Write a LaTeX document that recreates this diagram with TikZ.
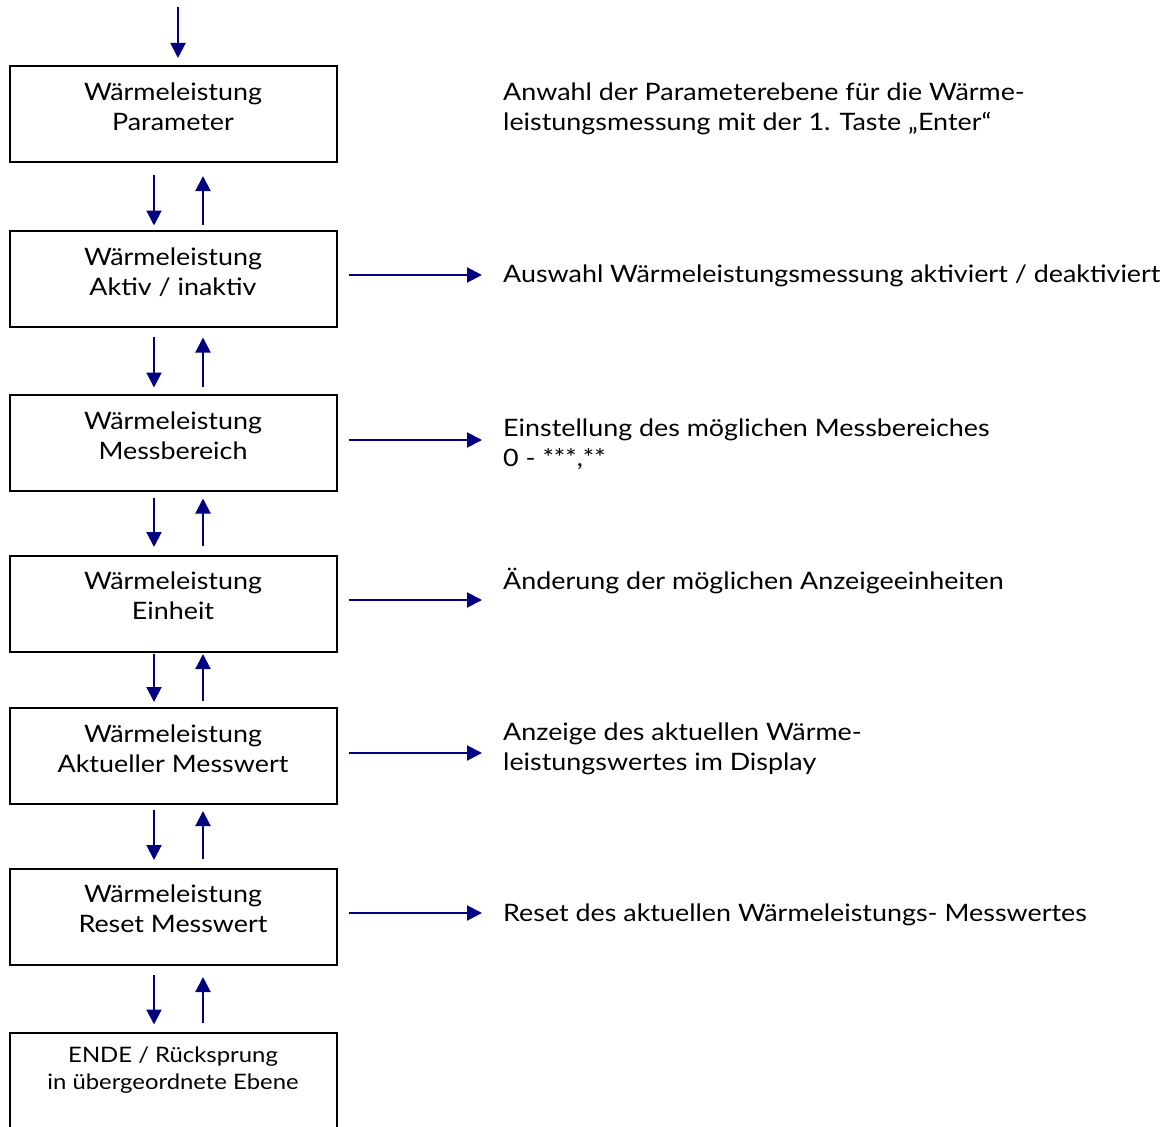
\documentclass[tikz,border=0pt]{standalone}
\usepackage{fontspec}
\setmainfont{Lato}[FakeStretch=1.12]
\usetikzlibrary{arrows.meta}
\definecolor{navy}{RGB}{0,0,128}
\begin{document}
\begin{tikzpicture}[x=1pt,y=-1pt,
  box/.style={draw=black,line width=2pt,minimum width=327pt,minimum height=96pt,inner sep=0pt},
  boxtext/.style={align=center,font=\fontsize{24}{30}\selectfont,inner sep=0pt},
  note/.style={anchor=west,align=left,font=\fontsize{24}{30}\selectfont,inner sep=0pt},
  arr/.style={draw=navy,line width=2pt,-{Triangle[length=15pt,width=15pt]}}]
\useasboundingbox (0,0) rectangle (1166,1126);

% step boxes
\node[box] (b1) at (173,114) {};
\node[box] (b2) at (173,278.5) {};
\node[box] (b3) at (173,442.5) {};
\node[box] (b4) at (173,604) {};
\node[box] (b5) at (173,756) {};
\node[box] (b6) at (173,917) {};
\node[box,minimum height=97pt] (b7) at (173,1081) {};

% box captions
\node[boxtext] (c1) at ([yshift=7pt]b1.center) {Wärmeleistung\\Parameter};
\node[boxtext] (c2) at ([yshift=6.5pt]b2.center) {Wärmeleistung\\Aktiv / inaktiv};
\node[boxtext] (c3) at ([yshift=7pt]b3.center) {Wärmeleistung\\Messbereich};
\node[boxtext] (c4) at ([yshift=8pt]b4.center) {Wärmeleistung\\Einheit};
\node[boxtext] (c5) at ([yshift=7pt]b5.center) {Wärmeleistung\\Aktueller Messwert};
\node[boxtext] (c6) at ([yshift=8pt]b6.center) {Wärmeleistung\\Reset Messwert};
\node[boxtext,font=\fontsize{21.3}{27}\selectfont] (c7) at ([yshift=10.5pt]b7.center) {ENDE / Rücksprung\\in übergeordnete Ebene};

% explanations
\node[note] (t1) at (503,108.5) {Anwahl der Parameterebene für die Wärme-\\leistungsmessung mit der 1. Taste „Enter“};
\node[note] (t2) at (503,276) {Auswahl Wärmeleistungsmessung aktiviert / deaktiviert};
\node[note] (t3) at (503,444) {Einstellung des möglichen Messbereiches\\0 - ***,**};
\node[note] (t4) at (503,581) {Änderung der möglichen Anzeigeeinheiten};
\node[note] (t5) at (503,749) {Anzeige des aktuellen Wärme-\\leistungswertes im Display};
\node[note] (t6) at (503,915) {Reset des aktuellen Wärmeleistungs- Messwertes};

% entry arrow
\coordinate (entry) at (178,7);
\draw[arr] (entry) -- ([yshift=7pt]entry |- b1.north);

% down / up arrows between consecutive boxes
\foreach \u/\l/\ds/\de/\us/\ue in {b1/b2/12/4/5/13, b2/b3/9/6/7/10, b3/b4/6/8/9/7,
                                   b4/b5/1/5/6/1, b5/b6/5/8/9/6, b6/b7/9/7/9/11}{
  \draw[arr] ([xshift=-19pt,yshift=-\ds pt]\u.south) -- ([xshift=-19pt,yshift=\de pt]\l.north);
  \draw[arr] ([xshift=30pt,yshift=\us pt]\l.north) -- ([xshift=30pt,yshift=-\ue pt]\u.south);
}

% arrows to the explanations
\foreach \b/\t/\dy in {b2/t2/3.5, b3/t3/2.5, b4/t4/4, b5/t5/3, b6/t6/4}{
  \coordinate (\t in) at ([xshift=-21pt]\t.west);
  \coordinate (\b out) at ([xshift=11pt,yshift=\dy pt]\b.east);
  \draw[arr] (\b out) -- (\b out -| \t in);
}
\end{tikzpicture}
\end{document}
